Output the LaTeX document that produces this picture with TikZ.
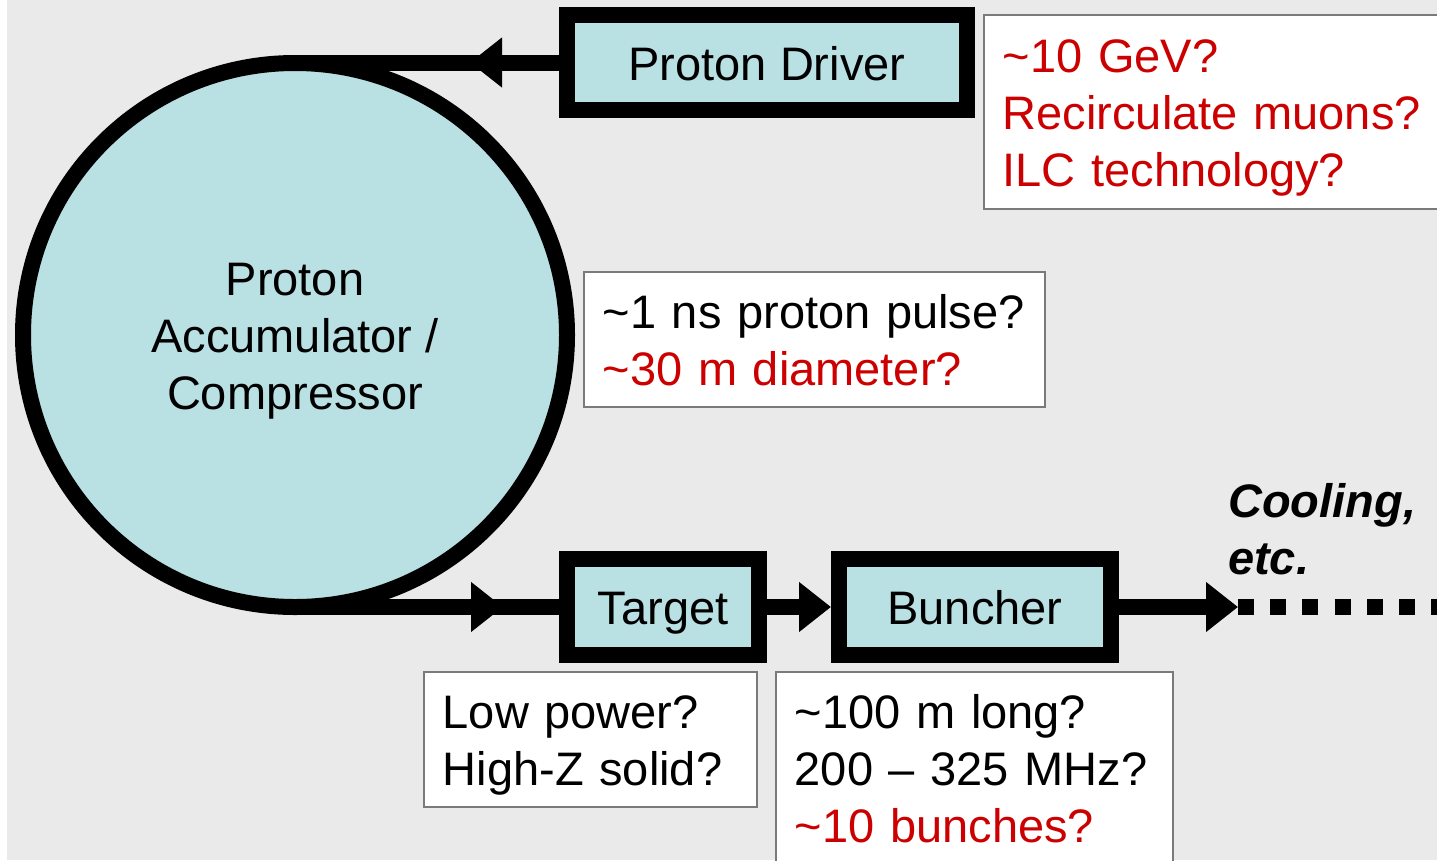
\documentclass[tikz,border=0pt]{standalone}
\usepackage{fontspec}
\setmainfont{Liberation Sans}
\usetikzlibrary{arrows.meta}
\definecolor{bggray}{HTML}{EAEAEA}
\definecolor{boxblue}{HTML}{B9E0E3}
\definecolor{qred}{HTML}{CC0000}
\definecolor{bordergray}{HTML}{7A7A7A}
\newcommand\topstrut{\rule{0pt}{57pt}}
\newcommand\botstrut{\rule[-21pt]{0pt}{21pt}}
\begin{document}
\begin{tikzpicture}[x=1pt,y=-1pt,
  bigfont/.style={font=\fontsize{47}{57}\selectfont},
  stagebox/.style={draw=black, line width=16pt, fill=boxblue, rectangle, inner sep=0pt, text height=35pt, text depth=0pt, bigfont},
  ring/.style={draw=black, line width=16pt, fill=boxblue, circle, inner sep=0pt, outer sep=0pt, minimum size=544pt, align=center, bigfont},
  note/.style={draw=bordergray, line width=1.5pt, fill=white, rectangle, anchor=north west, inner xsep=19pt, inner ysep=0pt, align=left, bigfont},
  beam/.style={draw=black, line width=16pt},
  beamtip/.style={-{Triangle[length=32pt,width=48pt]}},
  ]
\useasboundingbox (0,0) rectangle (1437,860);
\fill[white] (0,0) rectangle (1437,860);
\fill[bggray] (7,0) rectangle (1437,860);

% main elements
\node[ring] (acc) at (295,335) {\rule{0pt}{44pt}Proton\\Accumulator /\\Compressor};
\node[stagebox, minimum width=400pt, minimum height=95pt] (driver) at (767,62.5) {Proton Driver};
\node[stagebox, minimum width=192pt, minimum height=96pt] (target) at (663,607) {Target};
\node[stagebox, minimum width=272pt, minimum height=96pt] (buncher) at (975,607) {Buncher};

% annotation boxes
\node[note, text=qred, text width=442pt, minimum height=194pt] (drvnote) at (983,14)
  {\topstrut\textasciitilde10 GeV?\\Recirculate muons?\\ILC technology?\botstrut};
\node[note, text width=423pt, minimum height=135pt] (accnote) at (583,271)
  {\topstrut\textasciitilde1 ns proton pulse?\\\textcolor{qred}{\textasciitilde30 m diameter?}\botstrut};
\node[note, text width=295pt, minimum height=135pt] (tgtnote) at (423,671)
  {\topstrut Low power?\\High-Z solid?\botstrut};
\node[note, text width=359pt, minimum height=192pt] (bunnote) at (775,671)
  {\topstrut\textasciitilde100 m long?\\200 -- 325 MHz?\\\textcolor{qred}{\textasciitilde10 bunches?}\botstrut};

\node[anchor=north west, inner sep=0pt, align=left, bigfont, font=\fontsize{47}{57}\selectfont\bfseries\itshape] (cool) at (1228,460)
  {\topstrut Cooling,\\etc.};

% connectors
\coordinate (topTip) at (470,62.5);
\coordinate (botTip) at (503,607);
\coordinate (coolTip) at (1238,607);
\coordinate (lineEnd) at (1450,607);

\draw[beam] (driver.west) -- (driver.west -| acc.north);
\draw[beam, beamtip] (driver.west) -- (topTip);
\draw[beam] (acc.south) -- (target.west);
\draw[beam, beamtip] (acc.south) -- (botTip);
\draw[beam, beamtip] (target.east) -- (buncher.west);
\draw[beam, beamtip] (buncher.east) -- (coolTip);
\draw[beam, dash pattern=on 16pt off 16.2pt] (coolTip) -- (lineEnd);
\end{tikzpicture}
\end{document}
